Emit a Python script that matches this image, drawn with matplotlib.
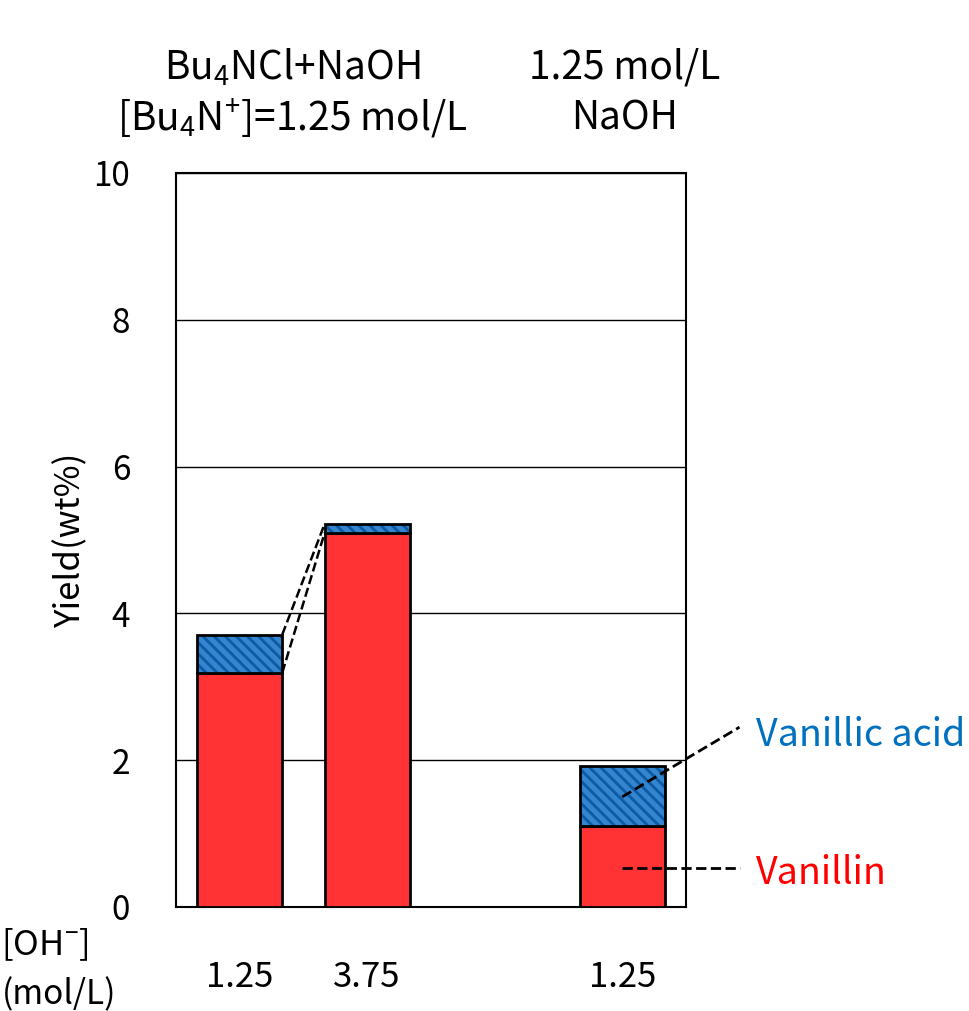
import numpy as np
import matplotlib.pyplot as plt

plt.rcParams['font.family'] = ['Noto Sans CJK JP', 'DejaVu Sans']
plt.rcParams['mathtext.default'] = 'regular'
plt.rcParams['hatch.linewidth'] = 2.0

# data
pos = [0, 1, 3]
oh_labels = ['1.25', '3.75', '1.25']
vanillin = [3.19, 5.10, 1.10]
vanillic_acid = [0.52, 0.12, 0.82]

red = '#FF3333'
blue = '#3385D0'
blue_dark = '#0D5AA3'
w = 0.667

fig = plt.figure(figsize=(9.69, 10.11), dpi=100)
ax = fig.add_axes([0.1816, 0.1029, 0.5263, 0.726])

top = np.array(vanillin) + np.array(vanillic_acid)

# 红色：香草醛
ax.bar(pos, vanillin, width=w, color=red, edgecolor='black', linewidth=2, zorder=3)
# 蓝色：香草酸（斜线填充）
ax.bar(pos, vanillic_acid, bottom=vanillin, width=w, color=blue,
       edgecolor=blue_dark, hatch='\\\\\\', linewidth=0, zorder=3)
ax.bar(pos, vanillic_acid, bottom=vanillin, width=w, fill=False,
       edgecolor='black', linewidth=2, zorder=4)

# 虚线连接前两根柱子
ax.plot([pos[0] + w / 2, pos[1] - w / 2], [top[0], top[1]], 'k--', lw=1.8, zorder=5)
ax.plot([pos[0] + w / 2, pos[1] - w / 2], [vanillin[0], vanillin[1]], 'k--', lw=1.8, zorder=5)

ax.set_xlim(-0.5, 3.5)
ax.set_ylim(0, 10)
ax.set_yticks([0, 2, 4, 6, 8, 10])
ax.yaxis.grid(True, color='black', linewidth=1)
ax.set_axisbelow(True)
for s in ax.spines.values():
    s.set_linewidth(1.5)
ax.tick_params(axis='y', length=0, pad=33, labelsize=24)
ax.set_xticks(pos)
ax.set_xticklabels(oh_labels)
ax.tick_params(axis='x', length=0, pad=38, labelsize=25)
ax.set_ylabel('Yield(wt%)', fontsize=25, labelpad=4)

# 图例标注（虚线引线）
ax.plot([3.0, 3.92], [1.5, 2.45], 'k--', lw=2, clip_on=False, zorder=6)
ax.plot([3.0, 3.92], [0.53, 0.53], 'k--', lw=2, clip_on=False, zorder=6)
ax.text(4.05, 2.33, 'Vanillic acid', fontsize=27, color='#0070C0', va='center', ha='left')
ax.text(4.05, 0.46, 'Vanillin', fontsize=27, color='#FF0000', va='center', ha='left')

# 顶部条件说明
fig.text(292 / 969, 1 - 68 / 1011, 'Bu$_4$NCl+NaOH', ha='center', va='center', fontsize=28)
fig.text(292 / 969, 1 - 118 / 1011, '[Bu$_4$N$^{+}$]=1.25 mol/L', ha='center', va='center', fontsize=28)
fig.text(625 / 969, 1 - 68 / 1011, '1.25 mol/L', ha='center', va='center', fontsize=28)
fig.text(625 / 969, 1 - 118 / 1011, 'NaOH', ha='center', va='center', fontsize=28)

fig.text(45 / 969, 1 - 945 / 1011, '[OH$^{-}$]', ha='center', va='center', fontsize=25)
fig.text(2 / 969, 1 - 995 / 1011, '(mol/L)', ha='left', va='center', fontsize=24)

plt.savefig('out.png', dpi=100)
plt.close()
